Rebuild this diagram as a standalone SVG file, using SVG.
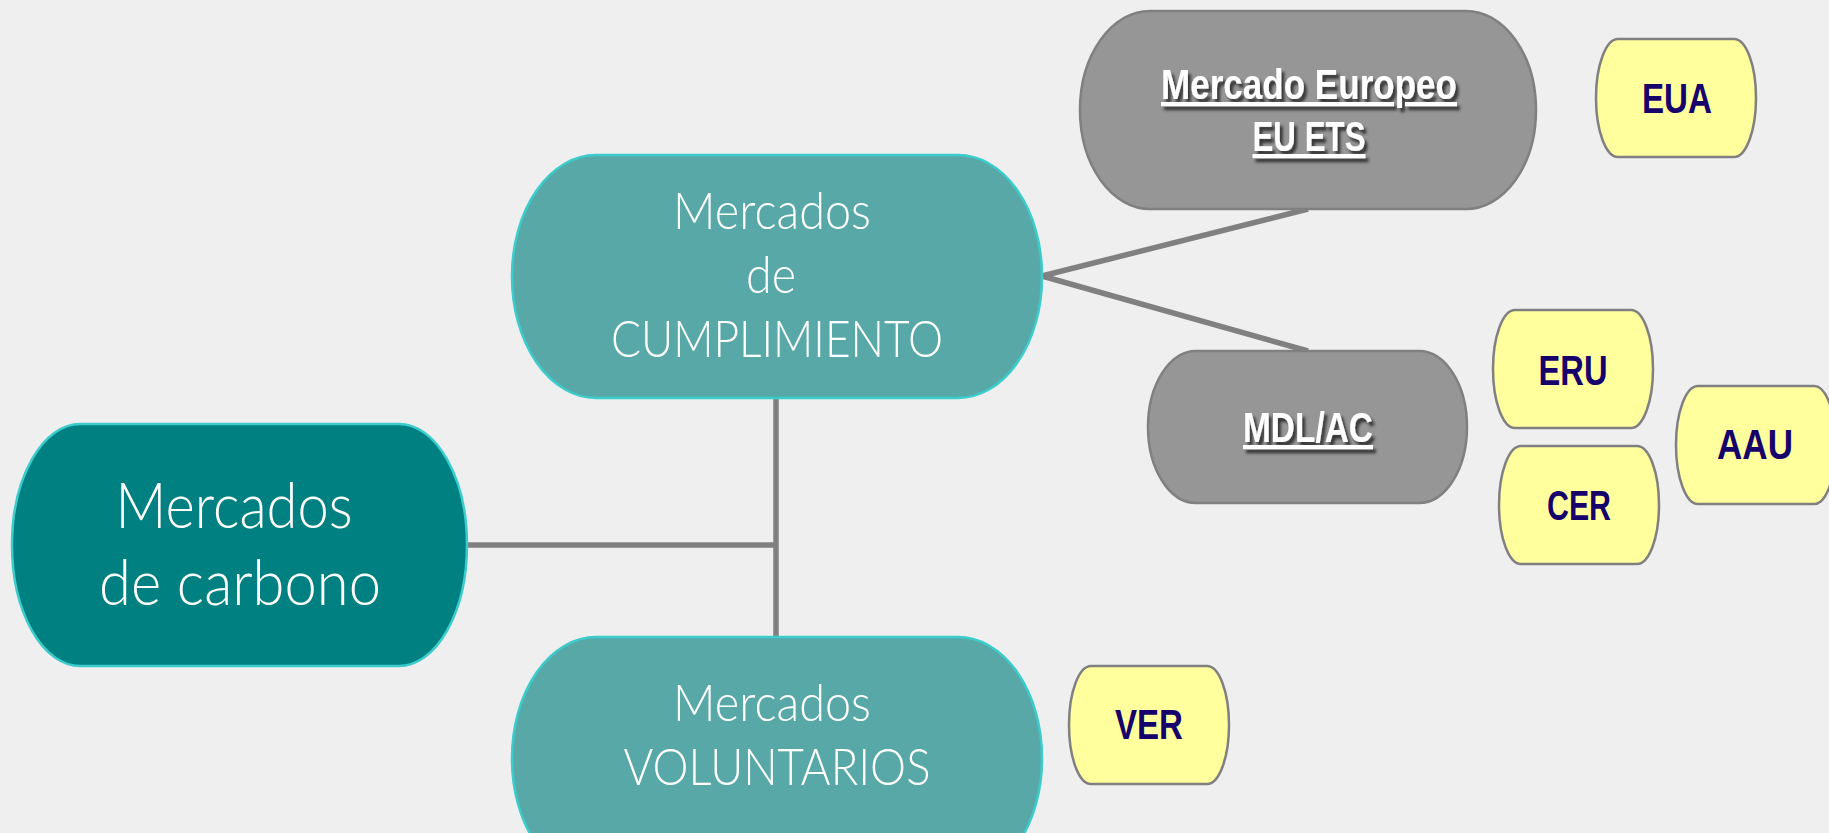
<svg xmlns="http://www.w3.org/2000/svg" width="1829" height="833" viewBox="0 0 1829 833">
<defs>
<filter id="sh" x="-10%" y="-30%" width="130%" height="180%">
<feDropShadow dx="3" dy="4" stdDeviation="1.8" flood-color="#000" flood-opacity="0.65"/>
</filter>
</defs>
<style>
.bg{fill:#efefef}
.conn{stroke:#808080;stroke-width:5.5;fill:none}
.teal{stroke:#3ccccc;stroke-width:2.5}
.dark{fill:#008080}
.light{fill:#58a8a8}
.gray{fill:#969696;stroke:#808080;stroke-width:2.5}
.yel{fill:#ffff9e;stroke:#808080;stroke-width:2.5}
.tw{fill:#ffffff;font-family:Lato,"Open Sans","Liberation Sans",sans-serif;font-weight:300;text-anchor:middle}
.tg{fill:#ffffff;font-family:"Liberation Sans Narrow","Liberation Sans",sans-serif;font-weight:bold;text-anchor:middle;text-decoration:underline;font-size:42px}
.ty{fill:#16006b;font-family:"Liberation Sans Narrow","Liberation Sans",sans-serif;font-weight:bold;text-anchor:middle;font-size:43px}
</style>
<rect class="bg" x="0" y="0" width="1829" height="833"/>
<g id="connectors">
<line class="conn" x1="467" y1="545" x2="776" y2="545"/>
<line class="conn" x1="776" y1="398" x2="776" y2="637"/>
<line class="conn" x1="1042" y1="276" x2="1308" y2="209"/>
<line class="conn" x1="1042" y1="276" x2="1308" y2="351"/>
</g>
<g id="carbono">
<rect class="dark teal" x="12" y="424" width="455" height="242" rx="68" ry="121"/>
<text class="tw" font-size="64" x="234" y="528" textLength="237" lengthAdjust="spacingAndGlyphs">Mercados</text>
<text class="tw" font-size="64" x="240" y="605" textLength="282" lengthAdjust="spacingAndGlyphs">de carbono</text>
</g>
<g id="cumplimiento">
<rect class="light teal" x="512" y="155" width="530" height="243" rx="84" ry="121"/>
<text class="tw" font-size="52" x="772" y="229" textLength="198" lengthAdjust="spacingAndGlyphs">Mercados</text>
<text class="tw" font-size="52" x="771" y="293" textLength="50" lengthAdjust="spacingAndGlyphs">de</text>
<text class="tw" font-size="52" x="777" y="357" textLength="332" lengthAdjust="spacingAndGlyphs">CUMPLIMIENTO</text>
</g>
<g id="voluntarios">
<rect class="light teal" x="512" y="637" width="530" height="243" rx="84" ry="121"/>
<text class="tw" font-size="52" x="772" y="721" textLength="198" lengthAdjust="spacingAndGlyphs">Mercados</text>
<text class="tw" font-size="52" x="777" y="785" textLength="307" lengthAdjust="spacingAndGlyphs">VOLUNTARIOS</text>
</g>
<g id="euets">
<rect class="gray" x="1080" y="11" width="456" height="198" rx="70" ry="99"/>
<g filter="url(#sh)">
<text class="tg" x="1309" y="99" textLength="296" lengthAdjust="spacingAndGlyphs">Mercado Europeo</text>
<text class="tg" x="1309" y="151" textLength="113" lengthAdjust="spacingAndGlyphs">EU ETS</text>
</g>
</g>
<g id="mdlac">
<rect class="gray" x="1148" y="351" width="319" height="152" rx="48" ry="76"/>
<text class="tg" filter="url(#sh)" x="1308" y="442" textLength="130" lengthAdjust="spacingAndGlyphs">MDL/AC</text>
</g>
<g id="eua">
<rect class="yel" x="1596" y="39" width="160" height="118" rx="22" ry="59"/>
<text class="ty" x="1677" y="113" textLength="70" lengthAdjust="spacingAndGlyphs">EUA</text>
</g>
<g id="eru">
<rect class="yel" x="1493" y="310" width="160" height="118" rx="22" ry="59"/>
<text class="ty" x="1573" y="385" textLength="69" lengthAdjust="spacingAndGlyphs">ERU</text>
</g>
<g id="cer">
<rect class="yel" x="1499" y="446" width="160" height="118" rx="22" ry="59"/>
<text class="ty" x="1579" y="520" textLength="64" lengthAdjust="spacingAndGlyphs">CER</text>
</g>
<g id="aau">
<rect class="yel" x="1676" y="386" width="160" height="118" rx="22" ry="59"/>
<text class="ty" x="1755" y="459" textLength="76" lengthAdjust="spacingAndGlyphs">AAU</text>
</g>
<g id="ver">
<rect class="yel" x="1069" y="666" width="160" height="118" rx="22" ry="59"/>
<text class="ty" x="1149" y="739" textLength="68" lengthAdjust="spacingAndGlyphs">VER</text>
</g>
</svg>
